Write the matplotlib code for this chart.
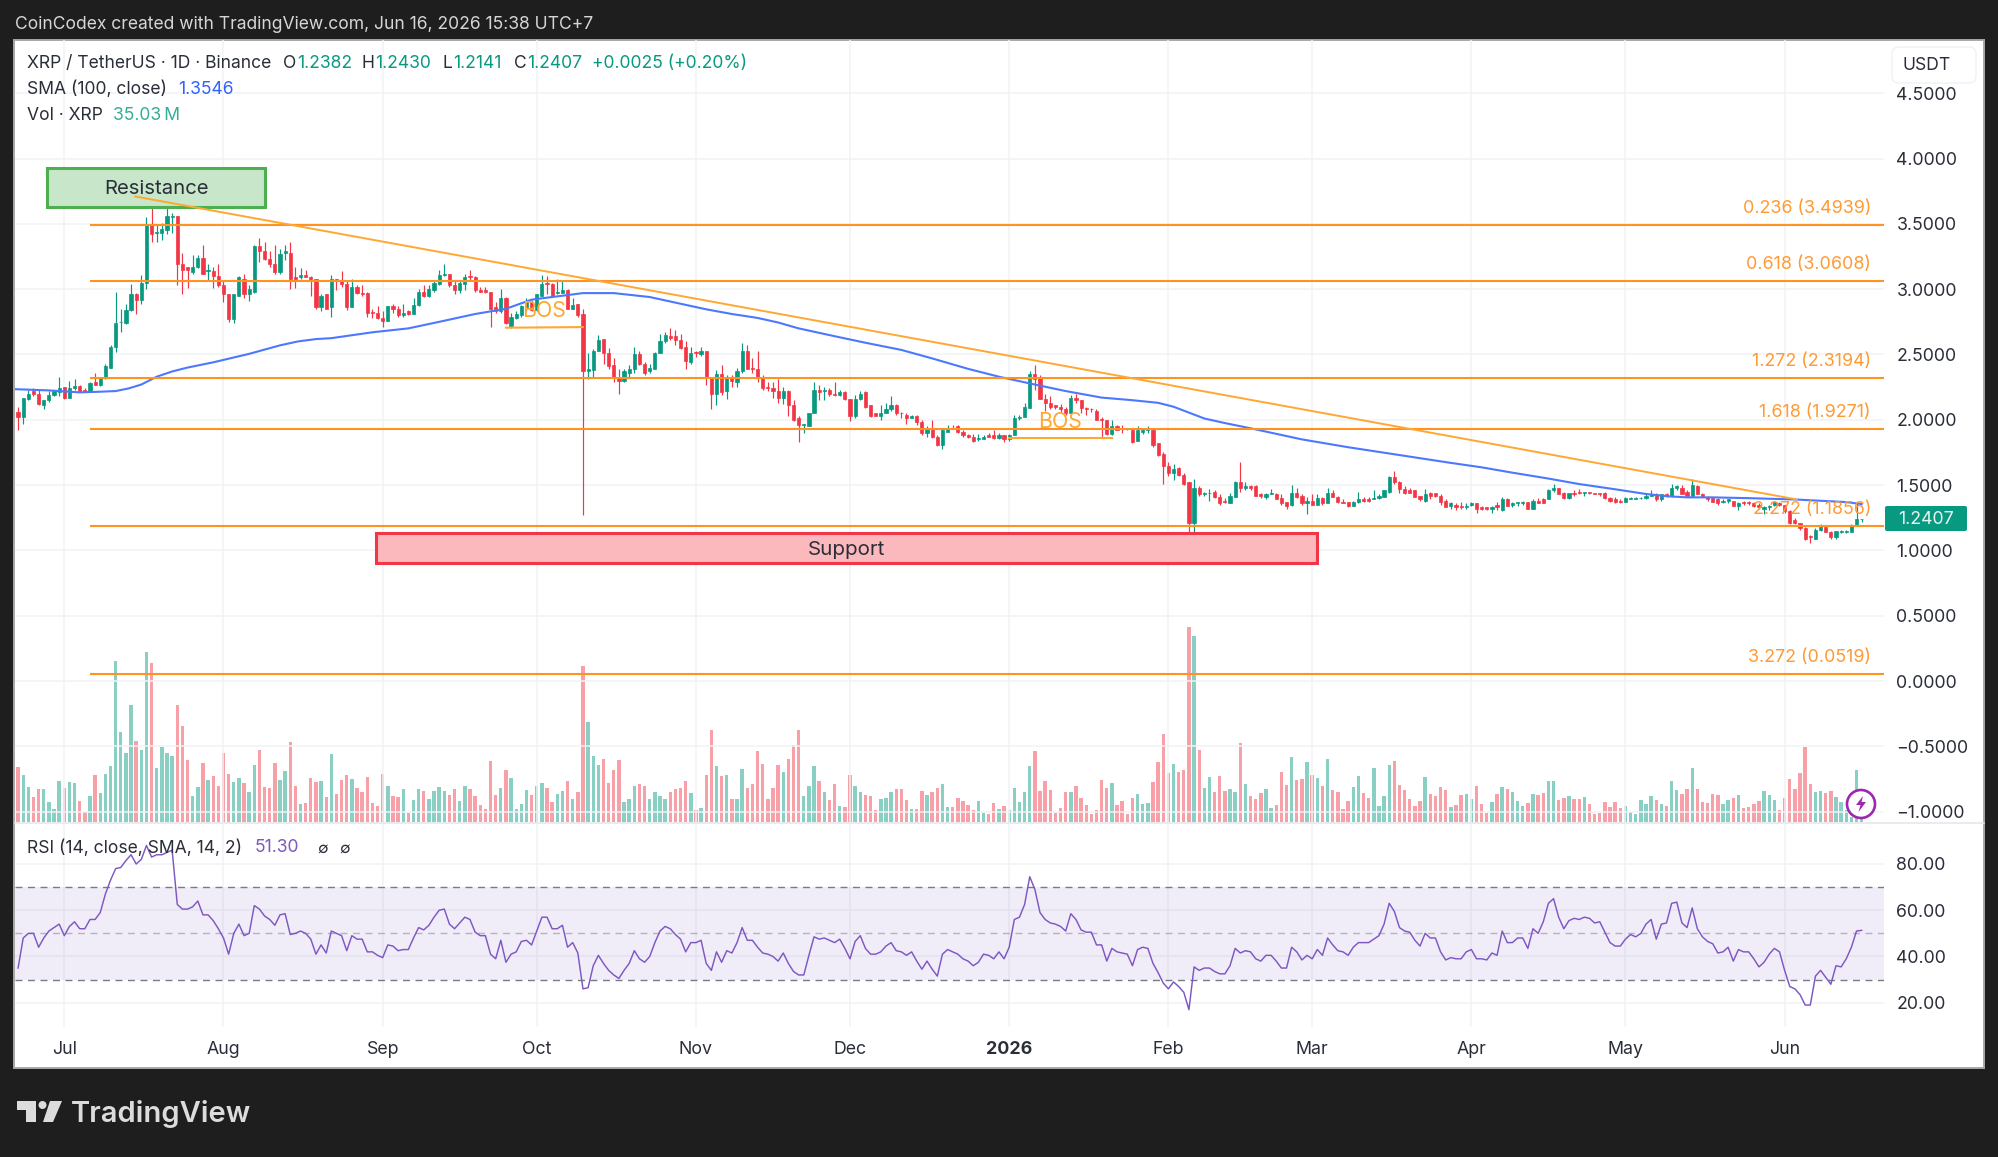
import numpy as np
import pandas as pd
import matplotlib
matplotlib.use("Agg")
import matplotlib.pyplot as plt
import matplotlib.dates as mdates
from matplotlib.patches import Rectangle, FancyBboxPatch, Circle, Polygon

plt.rcParams['font.family'] = ['Inter', 'DejaVu Sans']

W, H = 1999, 1157
UP = '#089981'
DOWN = '#f23645'
FIB = '#ff9322'
DRAW = '#ffa733'
TEXT = '#2a2e39'
GRID = '#f1f2f5'

# daily candles, 2025-06-22 to 2026-06-16
dates = pd.date_range('2025-06-22', '2026-06-16')

opens = [
    2.06, 2.02, 2.16, 2.22, 2.20, 2.11, 2.15, 2.19, 2.21, 2.25,
    2.17, 2.24, 2.26, 2.23, 2.22, 2.29, 2.27, 2.32, 2.40, 2.56,
    2.75, 2.74, 2.84, 2.96, 2.92, 3.05, 3.49, 3.43, 3.43, 3.45,
    3.55, 3.56, 3.19, 3.17, 3.13, 3.17, 3.24, 3.14, 3.14, 3.10,
    3.03, 2.96, 2.77, 2.95, 3.08, 2.96, 2.98, 3.33, 3.29, 3.23,
    3.19, 3.13, 3.28, 3.28, 3.09, 3.09, 3.11, 3.09, 3.08, 2.86,
    2.96, 2.86, 3.08, 3.06, 3.04, 2.86, 3.02, 2.97, 2.97, 2.825,
    2.82, 2.78, 2.76, 2.87, 2.85, 2.80, 2.83, 2.81, 2.88, 2.98,
    2.95, 2.99, 3.04, 3.11, 3.12, 3.03, 2.99, 3.04, 3.10, 3.09,
    2.99, 2.99, 2.98, 2.86, 2.83, 2.93, 2.72, 2.78, 2.80, 2.86,
    2.90, 2.84, 2.95, 3.05, 3.04, 2.97, 2.97, 2.99, 2.85, 2.89,
    2.81, 2.37, 2.38, 2.53, 2.62, 2.51, 2.42, 2.33, 2.30, 2.36,
    2.39, 2.50, 2.43, 2.37, 2.39, 2.51, 2.60, 2.64, 2.64, 2.61,
    2.56, 2.44, 2.52, 2.50, 2.53, 2.33, 2.20, 2.35, 2.22, 2.33,
    2.29, 2.37, 2.53, 2.40, 2.39, 2.33, 2.25, 2.24, 2.22, 2.17,
    2.22, 2.11, 2.01, 1.96, 1.95, 2.05, 2.23, 2.22, 2.23, 2.20,
    2.19, 2.21, 2.16, 2.03, 2.16, 2.21, 2.11, 2.05, 2.03, 2.05,
    2.08, 2.11, 2.055, 2.04, 2.01, 2.03, 1.98, 1.90, 1.94, 1.87,
    1.81, 1.91, 1.94, 1.95, 1.91, 1.88, 1.87, 1.85, 1.85, 1.88,
    1.88, 1.86, 1.88, 1.85, 1.88, 2.01, 2.02, 2.09, 2.35, 2.32,
    2.16, 2.13, 2.11, 2.10, 2.08, 2.05, 2.17, 2.15, 2.09, 2.085,
    2.07, 2.005, 2.00, 1.89, 1.95, 1.94, 1.94, 1.92, 1.84, 1.91,
    1.92, 1.92, 1.82, 1.74, 1.65, 1.59, 1.63, 1.58, 1.52, 1.21,
    1.48, 1.43, 1.44, 1.45, 1.41, 1.38, 1.36, 1.41, 1.52, 1.48,
    1.49, 1.49, 1.43, 1.41, 1.43, 1.43, 1.40, 1.37, 1.35, 1.44,
    1.42, 1.36, 1.38, 1.35, 1.40, 1.36, 1.44, 1.41, 1.37, 1.37,
    1.34, 1.37, 1.39, 1.39, 1.39, 1.40, 1.41, 1.45, 1.56, 1.52,
    1.47, 1.46, 1.46, 1.42, 1.38, 1.44, 1.44, 1.42, 1.38, 1.34,
    1.35, 1.34, 1.33, 1.35, 1.36, 1.33, 1.33, 1.32, 1.35, 1.31,
    1.39, 1.35, 1.36, 1.36, 1.37, 1.32, 1.38, 1.39, 1.39, 1.46,
    1.48, 1.44, 1.40, 1.44, 1.445, 1.44, 1.45, 1.44, 1.44, 1.44,
    1.40, 1.39, 1.38, 1.37, 1.39, 1.39, 1.40, 1.40, 1.42, 1.43,
    1.39, 1.43, 1.42, 1.48, 1.48, 1.45, 1.42, 1.49, 1.43, 1.41,
    1.40, 1.39, 1.37, 1.38, 1.38, 1.34, 1.37, 1.37, 1.36, 1.35,
    1.32, 1.33, 1.35, 1.36, 1.35, 1.30, 1.23, 1.21, 1.17, 1.11,
    1.09, 1.16, 1.18, 1.14, 1.10, 1.14, 1.14, 1.14, 1.19, 1.2382,
]
highs = [
    2.10, 2.17, 2.23, 2.24, 2.23, 2.15, 2.22, 2.22, 2.33, 2.25,
    2.30, 2.31, 2.27, 2.24, 2.29, 2.36, 2.33, 2.43, 2.57, 2.98,
    2.85, 2.89, 3.04, 2.97, 3.11, 3.55, 3.67, 3.49, 3.51, 3.65,
    3.58, 3.56, 3.28, 3.17, 3.26, 3.26, 3.34, 3.19, 3.17, 3.19,
    3.07, 2.96, 2.96, 3.10, 3.12, 3.03, 3.34, 3.39, 3.36, 3.29,
    3.34, 3.31, 3.34, 3.36, 3.17, 3.16, 3.15, 3.10, 3.08, 2.96,
    2.96, 3.11, 3.08, 3.14, 3.06, 3.08, 3.03, 3.03, 2.98, 2.85,
    2.87, 2.83, 2.87, 2.89, 2.87, 2.89, 2.84, 2.93, 3.00, 3.03,
    3.03, 3.06, 3.15, 3.19, 3.12, 3.07, 3.06, 3.12, 3.15, 3.10,
    3.02, 3.02, 2.98, 2.90, 3.00, 2.94, 2.82, 2.83, 2.88, 2.93,
    2.92, 2.96, 3.11, 3.10, 3.05, 3.08, 3.06, 3.00, 2.93, 2.89,
    2.85, 2.51, 2.54, 2.65, 2.62, 2.55, 2.47, 2.39, 2.39, 2.42,
    2.56, 2.53, 2.44, 2.43, 2.52, 2.66, 2.67, 2.70, 2.69, 2.66,
    2.60, 2.56, 2.53, 2.56, 2.53, 2.33, 2.38, 2.42, 2.34, 2.34,
    2.40, 2.59, 2.57, 2.47, 2.53, 2.34, 2.29, 2.29, 2.31, 2.25,
    2.23, 2.15, 2.03, 1.97, 2.05, 2.29, 2.27, 2.25, 2.24, 2.29,
    2.23, 2.22, 2.16, 2.19, 2.22, 2.22, 2.11, 2.05, 2.11, 2.13,
    2.18, 2.12, 2.06, 2.05, 2.04, 2.04, 2.00, 1.95, 2.00, 1.88,
    1.93, 1.96, 1.96, 1.96, 1.92, 1.89, 1.89, 1.89, 1.88, 1.90,
    1.92, 1.90, 1.88, 1.89, 2.04, 2.04, 2.13, 2.37, 2.42, 2.34,
    2.20, 2.18, 2.11, 2.12, 2.10, 2.19, 2.20, 2.15, 2.10, 2.09,
    2.08, 2.02, 2.00, 2.00, 1.96, 1.96, 1.94, 1.93, 1.95, 1.94,
    1.95, 1.93, 1.82, 1.75, 1.68, 1.66, 1.64, 1.59, 1.52, 1.55,
    1.49, 1.45, 1.47, 1.46, 1.43, 1.40, 1.44, 1.53, 1.68, 1.52,
    1.50, 1.50, 1.44, 1.44, 1.47, 1.44, 1.43, 1.37, 1.50, 1.48,
    1.43, 1.41, 1.43, 1.43, 1.41, 1.48, 1.46, 1.42, 1.39, 1.37,
    1.38, 1.45, 1.41, 1.41, 1.46, 1.43, 1.46, 1.57, 1.61, 1.53,
    1.49, 1.48, 1.46, 1.42, 1.47, 1.45, 1.44, 1.43, 1.39, 1.37,
    1.36, 1.37, 1.36, 1.37, 1.36, 1.34, 1.33, 1.34, 1.37, 1.41,
    1.40, 1.37, 1.37, 1.38, 1.37, 1.39, 1.40, 1.40, 1.47, 1.51,
    1.48, 1.45, 1.44, 1.46, 1.47, 1.45, 1.45, 1.44, 1.44, 1.45,
    1.41, 1.41, 1.39, 1.41, 1.41, 1.41, 1.41, 1.43, 1.46, 1.44,
    1.43, 1.44, 1.51, 1.50, 1.50, 1.46, 1.55, 1.50, 1.44, 1.42,
    1.41, 1.40, 1.39, 1.39, 1.38, 1.37, 1.38, 1.38, 1.37, 1.36,
    1.34, 1.35, 1.37, 1.37, 1.35, 1.31, 1.25, 1.21, 1.18, 1.12,
    1.17, 1.20, 1.18, 1.15, 1.15, 1.16, 1.16, 1.20, 1.36, 1.2430,
]
lows = [
    1.92, 1.97, 2.15, 2.18, 2.11, 2.08, 2.14, 2.18, 2.18, 2.16,
    2.17, 2.23, 2.21, 2.21, 2.21, 2.27, 2.26, 2.31, 2.40, 2.52,
    2.67, 2.73, 2.83, 2.81, 2.89, 3.00, 3.36, 3.36, 3.38, 3.42,
    3.43, 3.03, 2.96, 3.01, 3.12, 3.16, 3.12, 3.06, 3.01, 3.02,
    2.90, 2.75, 2.74, 2.95, 2.93, 2.91, 2.97, 3.21, 3.22, 3.17,
    3.12, 3.12, 3.22, 3.00, 3.01, 3.08, 3.09, 2.95, 2.85, 2.83,
    2.85, 2.79, 2.99, 3.02, 2.84, 2.86, 2.96, 2.95, 2.79, 2.78,
    2.77, 2.71, 2.76, 2.82, 2.79, 2.79, 2.80, 2.81, 2.87, 2.94,
    2.94, 2.98, 3.03, 3.10, 3.02, 2.96, 2.97, 2.99, 3.07, 2.98,
    2.98, 2.97, 2.71, 2.82, 2.82, 2.73, 2.70, 2.77, 2.79, 2.83,
    2.83, 2.83, 2.95, 2.96, 2.94, 2.96, 2.97, 2.85, 2.85, 2.79,
    1.27, 2.31, 2.32, 2.53, 2.43, 2.39, 2.29, 2.20, 2.29, 2.33,
    2.36, 2.42, 2.34, 2.36, 2.39, 2.51, 2.59, 2.61, 2.57, 2.54,
    2.39, 2.43, 2.48, 2.49, 2.27, 2.08, 2.11, 2.19, 2.16, 2.25,
    2.25, 2.36, 2.39, 2.36, 2.29, 2.23, 2.22, 2.17, 2.13, 2.12,
    2.03, 1.99, 1.83, 1.90, 1.95, 2.05, 2.15, 2.15, 2.18, 2.18,
    2.18, 2.15, 1.99, 2.01, 2.15, 2.09, 2.02, 2.03, 2.00, 2.05,
    2.07, 2.04, 2.01, 1.97, 2.01, 1.96, 1.88, 1.87, 1.86, 1.80,
    1.78, 1.91, 1.93, 1.90, 1.87, 1.86, 1.83, 1.84, 1.85, 1.87,
    1.85, 1.85, 1.83, 1.84, 1.88, 2.00, 2.02, 2.09, 2.23, 2.16,
    2.07, 2.08, 2.08, 2.06, 2.04, 2.05, 2.13, 2.05, 2.04, 2.06,
    2.00, 1.86, 1.88, 1.88, 1.92, 1.90, 1.92, 1.82, 1.84, 1.89,
    1.90, 1.79, 1.72, 1.51, 1.57, 1.54, 1.57, 1.50, 1.13, 1.13,
    1.42, 1.42, 1.38, 1.40, 1.35, 1.36, 1.36, 1.41, 1.45, 1.46,
    1.46, 1.42, 1.40, 1.39, 1.43, 1.39, 1.35, 1.32, 1.34, 1.40,
    1.35, 1.28, 1.35, 1.35, 1.35, 1.36, 1.41, 1.36, 1.36, 1.33,
    1.34, 1.36, 1.37, 1.37, 1.39, 1.39, 1.41, 1.44, 1.51, 1.44,
    1.43, 1.44, 1.41, 1.38, 1.37, 1.39, 1.41, 1.35, 1.33, 1.32,
    1.31, 1.32, 1.32, 1.34, 1.29, 1.31, 1.31, 1.29, 1.31, 1.30,
    1.34, 1.33, 1.34, 1.35, 1.32, 1.32, 1.36, 1.36, 1.39, 1.45,
    1.43, 1.39, 1.39, 1.42, 1.43, 1.42, 1.43, 1.43, 1.42, 1.39,
    1.37, 1.36, 1.36, 1.37, 1.39, 1.39, 1.39, 1.39, 1.42, 1.38,
    1.38, 1.41, 1.41, 1.46, 1.43, 1.42, 1.42, 1.43, 1.41, 1.38,
    1.37, 1.35, 1.36, 1.36, 1.34, 1.31, 1.35, 1.35, 1.33, 1.32,
    1.28, 1.31, 1.34, 1.34, 1.29, 1.20, 1.20, 1.16, 1.08, 1.06,
    1.09, 1.15, 1.14, 1.09, 1.09, 1.13, 1.13, 1.14, 1.19, 1.2141,
]
closes = [
    2.02, 2.17, 2.20, 2.20, 2.12, 2.15, 2.19, 2.22, 2.24, 2.17,
    2.24, 2.26, 2.22, 2.22, 2.28, 2.27, 2.32, 2.41, 2.56, 2.74,
    2.75, 2.84, 2.96, 2.92, 3.05, 3.49, 3.42, 3.44, 3.46, 3.56,
    3.56, 3.19, 3.15, 3.15, 3.17, 3.24, 3.12, 3.15, 3.10, 3.03,
    2.96, 2.77, 2.96, 3.09, 2.96, 3.00, 3.33, 3.29, 3.23, 3.19,
    3.13, 3.27, 3.29, 3.08, 3.08, 3.11, 3.09, 3.08, 2.86, 2.95,
    2.85, 3.08, 3.06, 3.04, 2.86, 3.02, 2.97, 2.96, 2.82, 2.82,
    2.78, 2.76, 2.87, 2.85, 2.80, 2.82, 2.81, 2.88, 2.98, 2.95,
    3.00, 3.05, 3.11, 3.12, 3.03, 2.99, 3.05, 3.09, 3.09, 2.99,
    2.98, 2.98, 2.85, 2.83, 2.93, 2.74, 2.79, 2.81, 2.87, 2.90,
    2.84, 2.96, 3.04, 3.04, 2.95, 2.98, 2.99, 2.85, 2.88, 2.80,
    2.37, 2.39, 2.53, 2.61, 2.51, 2.41, 2.33, 2.30, 2.37, 2.39,
    2.50, 2.43, 2.36, 2.40, 2.51, 2.60, 2.65, 2.63, 2.61, 2.55,
    2.45, 2.51, 2.51, 2.53, 2.32, 2.20, 2.35, 2.21, 2.33, 2.30,
    2.37, 2.53, 2.39, 2.39, 2.32, 2.24, 2.24, 2.22, 2.17, 2.22,
    2.11, 2.00, 1.96, 1.97, 2.05, 2.23, 2.21, 2.23, 2.20, 2.19,
    2.21, 2.16, 2.03, 2.16, 2.20, 2.10, 2.03, 2.03, 2.05, 2.08,
    2.11, 2.05, 2.05, 2.01, 2.03, 1.98, 1.90, 1.94, 1.87, 1.81,
    1.92, 1.94, 1.93, 1.91, 1.88, 1.87, 1.84, 1.86, 1.87, 1.87,
    1.86, 1.88, 1.85, 1.88, 2.01, 2.02, 2.10, 2.35, 2.31, 2.16,
    2.13, 2.10, 2.10, 2.08, 2.05, 2.17, 2.15, 2.09, 2.08, 2.08,
    2.00, 2.00, 1.89, 1.95, 1.92, 1.93, 1.93, 1.83, 1.92, 1.92,
    1.93, 1.81, 1.73, 1.65, 1.59, 1.62, 1.58, 1.51, 1.21, 1.48,
    1.43, 1.44, 1.44, 1.41, 1.36, 1.37, 1.42, 1.52, 1.48, 1.49,
    1.48, 1.42, 1.42, 1.43, 1.44, 1.39, 1.36, 1.34, 1.44, 1.41,
    1.36, 1.38, 1.35, 1.40, 1.36, 1.44, 1.41, 1.37, 1.36, 1.34,
    1.37, 1.39, 1.38, 1.38, 1.40, 1.42, 1.46, 1.56, 1.52, 1.47,
    1.44, 1.44, 1.41, 1.39, 1.43, 1.42, 1.42, 1.37, 1.33, 1.36,
    1.33, 1.33, 1.34, 1.36, 1.32, 1.32, 1.32, 1.33, 1.33, 1.39,
    1.34, 1.36, 1.37, 1.37, 1.32, 1.38, 1.36, 1.36, 1.46, 1.48,
    1.43, 1.40, 1.44, 1.43, 1.44, 1.45, 1.44, 1.43, 1.43, 1.40,
    1.38, 1.37, 1.37, 1.40, 1.40, 1.40, 1.40, 1.42, 1.43, 1.39,
    1.43, 1.42, 1.48, 1.49, 1.43, 1.42, 1.50, 1.43, 1.41, 1.39,
    1.37, 1.36, 1.38, 1.39, 1.34, 1.36, 1.36, 1.36, 1.34, 1.33,
    1.33, 1.34, 1.37, 1.35, 1.30, 1.21, 1.21, 1.17, 1.09, 1.10,
    1.16, 1.18, 1.14, 1.10, 1.15, 1.15, 1.15, 1.19, 1.24, 1.2407,
]

# volume in millions of XRP
volumes = [
    640, 548, 408, 288, 384, 384, 232, 152, 480, 392,
    468, 460, 240, 120, 300, 548, 340, 560, 652, 1888,
    1052, 808, 1368, 944, 840, 1988, 1864, 632, 872, 808,
    772, 1368, 1128, 728, 304, 408, 688, 492, 536, 420,
    808, 560, 472, 512, 452, 352, 664, 844, 408, 392,
    692, 488, 600, 936, 420, 208, 220, 512, 472, 480,
    288, 792, 332, 488, 548, 504, 392, 352, 528, 220,
    184, 560, 420, 304, 296, 384, 104, 260, 384, 368,
    272, 368, 408, 360, 320, 384, 248, 416, 384, 300,
    200, 152, 712, 320, 392, 608, 512, 152, 212, 372,
    320, 424, 456, 392, 232, 332, 368, 480, 272, 352,
    1828, 1168, 772, 668, 740, 460, 608, 728, 232, 272,
    420, 440, 416, 272, 352, 304, 272, 352, 388, 400,
    480, 340, 140, 164, 546, 1072, 651, 534, 554, 269,
    265, 616, 398, 441, 831, 682, 269, 398, 663, 585,
    733, 905, 1072, 300, 421, 651, 480, 347, 261, 441,
    183, 175, 546, 417, 347, 320, 304, 136, 269, 277,
    351, 386, 390, 253, 148, 148, 363, 320, 351, 398,
    448, 175, 175, 277, 250, 195, 144, 242, 101, 90,
    226, 156, 191, 136, 398, 238, 351, 651, 835, 363,
    480, 370, 105, 164, 347, 355, 421, 285, 195, 97,
    144, 488, 398, 452, 199, 242, 94, 281, 332, 207,
    222, 468, 706, 1026, 569, 675, 589, 605, 2282, 2176,
    842, 398, 523, 351, 534, 363, 382, 351, 920, 448,
    308, 269, 339, 386, 168, 203, 585, 429, 760, 495,
    507, 706, 554, 519, 421, 733, 370, 351, 156, 250,
    406, 542, 343, 281, 628, 191, 304, 671, 718, 429,
    370, 273, 183, 242, 526, 332, 304, 410, 370, 172,
    195, 312, 324, 273, 417, 207, 105, 234, 332, 410,
    386, 351, 250, 183, 226, 332, 316, 343, 484, 484,
    261, 285, 308, 269, 269, 293, 207, 90, 101, 234,
    172, 230, 164, 191, 117, 97, 261, 215, 300, 261,
    215, 183, 484, 370, 328, 386, 628, 386, 230, 218,
    332, 312, 215, 253, 281, 316, 168, 179, 215, 250,
    363, 312, 261, 144, 285, 499, 382, 577, 874, 441,
    355, 363, 339, 363, 293, 234, 137, 59, 605, 35.03,
]

rsi = [
    35, 48, 50, 50, 44, 48, 51, 52.5, 54, 49,
    53, 55, 52, 52, 56, 56, 59, 67, 73, 78,
    78.5, 81.5, 84, 80, 82, 88, 83, 84, 84, 85,
    86, 62.5, 60.5, 60.5, 61.5, 64, 58, 58, 55.5, 52,
    48, 41, 50, 54, 49, 50, 62, 60.5, 57.5, 56,
    53.5, 58, 58.5, 49.5, 50, 51, 50, 47.5, 41, 45,
    41.5, 51, 50, 49, 42.5, 49, 47.5, 47.5, 42, 42,
    40.5, 39.5, 45, 44.5, 42.5, 43, 43, 48, 52.5, 51.5,
    53.5, 57, 60, 60.5, 54, 52, 54.5, 57, 56, 50.5,
    49, 49, 41, 39, 47, 37.5, 41, 42, 46.5, 47,
    45, 51, 57, 57, 52, 52, 53.5, 44, 46, 41.5,
    26, 26.5, 36, 40.5, 37, 34, 32, 30.5, 34, 37,
    42.5, 39, 37.5, 40, 46, 51, 53, 52, 49.5, 47.5,
    42, 46, 46, 47, 37, 34, 42, 37.5, 42.5, 41.5,
    46, 52.5, 47, 47, 44, 41.5, 41, 40, 38, 41.5,
    37, 33.5, 32, 32, 40.5, 48.5, 47.5, 48, 47, 46,
    47.5, 43.5, 39, 46.5, 49, 43.5, 41, 41, 42, 44.5,
    46, 42.5, 42, 40.5, 42, 38, 34.5, 38, 34.5, 31.5,
    41, 43, 42, 41, 39, 38, 36, 37.5, 41, 40.5,
    39, 42, 39, 44, 56, 57, 62.5, 74.5, 69, 59,
    56, 54.5, 54, 53, 51, 58.5, 56, 51.5, 50.5, 50.5,
    45, 45, 38, 43.5, 42, 41.5, 41, 36, 43, 44,
    43.5, 37, 33, 28.5, 26, 29, 27, 24.5, 17, 35.5,
    34, 35, 35, 33.5, 32.5, 32.5, 36, 43.5, 41.5, 42.5,
    42, 39, 38, 40.5, 40.5, 38, 35, 35, 44, 42,
    38.5, 40.5, 39, 43, 40.5, 48, 45, 42.5, 42, 40.5,
    44, 46, 46, 46, 47.5, 49, 54, 63, 59.5, 52.5,
    51, 50.5, 47, 44.5, 50, 48, 48, 42, 38.5, 39.5,
    39, 39, 42, 43, 39, 39, 38.5, 41.5, 40.5, 51,
    46, 46, 48, 48, 43.5, 52, 50, 55, 63, 65,
    57, 52, 55.5, 56.5, 56, 57, 56.5, 54.5, 55, 50.5,
    46, 44.5, 44.5, 47.5, 49.5, 48.5, 50, 54, 56, 47.5,
    54, 54.5, 63, 63.5, 54.5, 52.5, 61, 52, 48.5, 46.5,
    45.5, 41.5, 42, 44, 38, 43, 42, 42, 39, 35.5,
    37.5, 41, 43.5, 42, 34, 27, 26, 23.5, 19, 19,
    31.5, 34, 31, 28, 36, 35.5, 39, 44, 51, 51.3,
]

# SMA 100, days counted from 2025-07-01
sma_days = [-10, -3, 3, 7, 10, 12.5, 15, 18, 21, 24, 29, 36, 42, 45.5, 49, 52,
            60, 67, 73, 80, 86, 91, 95, 98, 101, 107, 114, 121, 125, 130, 135,
            139, 143, 150, 156, 163, 169, 176, 182, 189, 195, 202, 208, 213,
            216, 219, 222, 226, 231, 241, 250, 260, 270, 276, 282, 289, 295,
            302, 308, 312, 316, 321, 328, 337, 347, 350]
sma_values = [2.235, 2.225, 2.21, 2.215, 2.22, 2.24, 2.27, 2.33, 2.37, 2.40, 2.44, 2.505, 2.57, 2.60, 2.618, 2.625,
              2.67, 2.70, 2.75, 2.81, 2.85, 2.92, 2.94, 2.955, 2.97, 2.97, 2.94, 2.88, 2.846, 2.81, 2.78,
              2.745, 2.70, 2.64, 2.59, 2.535, 2.47, 2.39, 2.33, 2.27, 2.22, 2.17, 2.15, 2.13,
              2.10, 2.055, 2.01, 1.975, 1.935, 1.85, 1.79, 1.73, 1.67, 1.636, 1.595, 1.55, 1.508,
              1.468, 1.432, 1.415, 1.406, 1.406, 1.40, 1.39, 1.37, 1.3546]

fib_ratios = ['0.236', '0.618', '1.272', '1.618', '2.272', '3.272']
fib_levels = [3.4939, 3.0608, 2.3194, 1.9271, 1.1856, 0.0519]

price_ticks = [4.5, 4.0, 3.5, 3.0, 2.5, 2.0, 1.5, 1.0, 0.5, 0.0, -0.5, -1.0]
rsi_ticks = [80, 60, 40, 20]
month_starts = ['2025-07-01', '2025-08-01', '2025-09-01', '2025-10-01', '2025-11-01', '2025-12-01',
                '2026-01-01', '2026-02-01', '2026-03-01', '2026-04-01', '2026-05-01', '2026-06-01']
month_labels = ['Jul', 'Aug', 'Sep', 'Oct', 'Nov', 'Dec', '2026', 'Feb', 'Mar', 'Apr', 'May', 'Jun']

x = mdates.date2num(dates)
jul1 = mdates.date2num(pd.Timestamp('2025-07-01'))
opens, highs, lows, closes = map(np.array, (opens, highs, lows, closes))
colors = [UP if c >= o else DOWN for o, c in zip(opens, closes)]


def pane(left, top, right, bottom):
    # axes placed by pixel edges, y measured from the top of the figure
    return fig.add_axes([left / W, 1 - bottom / H, (right - left) / W, (bottom - top) / H])


fig = plt.figure(figsize=(W / 100, H / 100), dpi=100, facecolor='#1e1e1e')

# page furniture under everything
back = fig.add_axes([0, 0, 1, 1], zorder=-1)
back.set_xlim(0, W)
back.set_ylim(H, 0)
back.axis('off')
back.add_patch(Rectangle((14.5, 40), 1970, 1028, fc='white', ec='#a8a8a8', lw=1.4))

ax = pane(15, 40, 1884, 822)
ax_vol = ax.twinx()
rsi_ax = pane(15, 824, 1884, 1027)
ax.set_zorder(ax_vol.get_zorder() + 1)
ax.patch.set_visible(False)
ax_vol.patch.set_visible(False)
rsi_ax.patch.set_visible(False)

xlim = (jul1 - 9.6, jul1 + 354.35)
month_x = mdates.date2num(pd.to_datetime(month_starts))

# volume
ax_vol.bar(x, volumes, width=0.66, color=colors, alpha=0.47, linewidth=0)
ax_vol.set_ylim(0, 9149)
ax_vol.yaxis.set_visible(False)

# candles
ax.vlines(x, lows, highs, colors=colors, lw=0.85, zorder=3)
ax.bar(x, np.abs(closes - opens), bottom=np.minimum(opens, closes), width=0.62,
       color=colors, edgecolor=colors, linewidth=0.5, zorder=4)
ax.plot(jul1 + np.array(sma_days), sma_values, color='#4c78ff', lw=1.5, zorder=5)

# fib levels
for ratio, level in zip(fib_ratios, fib_levels):
    ax.plot([jul1 + 5, xlim[1]], [level, level], color=FIB, lw=1.5, zorder=6, solid_capstyle='butt')
    ax.annotate(f'{ratio} ({level:.4f})', xy=(jul1 + 351.8, level), xytext=(0, 12),
                textcoords='offset points', ha='right', va='center', color='#ff9a33',
                fontsize=12.9, zorder=7)

# trendline and structure breaks
ax.plot([jul1 + 13.8, jul1 + 337.4], [3.71, 1.39], color=DRAW, lw=1.4, zorder=6)
ax.plot([jul1 + 86, jul1 + 101], [2.705, 2.71], color=DRAW, lw=1.5, zorder=6)
ax.plot([jul1 + 184, jul1 + 204], [1.86, 1.86], color=DRAW, lw=1.5, zorder=6)
ax.text(jul1 + 93.4, 2.835, 'BOS', color=DRAW, fontsize=15.3, ha='center', va='center', zorder=7)
ax.text(jul1 + 193.9, 1.985, 'BOS', color=DRAW, fontsize=15.3, ha='center', va='center', zorder=7)

# resistance and support zones
ax.add_patch(Rectangle((jul1 - 3.3, 3.63), 42.3, 0.30, fc='#c8e6c9', ec='#4caf50', lw=2.2, zorder=5.5))
ax.text(jul1 + 17.9, 3.765, 'Resistance', color=TEXT, fontsize=14.6, ha='center', va='center', zorder=7)
ax.add_patch(Rectangle((jul1 + 60.7, 0.906), 183.3, 0.227, fc='#fbb9be', ec=DOWN, lw=2.2, zorder=5.5))
ax.text(jul1 + 152.4, 1.005, 'Support', color=TEXT, fontsize=14.8, ha='center', va='center', zorder=7)

ax.set_xlim(xlim)
ax.set_ylim(-1.0796, 4.908)
ax.yaxis.tick_right()
ax.set_yticks(price_ticks)
ax.set_yticklabels([f'{t:.4f}'.replace('-', '\u2212') for t in price_ticks])
ax.set_xticks(month_x)
ax.tick_params(axis='x', length=0, labelbottom=False)
ax.tick_params(axis='y', length=0, pad=9, labelsize=12.8, labelcolor=TEXT)
ax.grid(True, color=GRID, lw=1.1)
ax.set_axisbelow(True)
for s in ax.spines.values():
    s.set_visible(False)
for s in ax_vol.spines.values():
    s.set_visible(False)

# RSI pane
rsi_ax.axhspan(30, 70, color='#7e57c2', alpha=0.1, lw=0)
rsi_ax.axhline(70, color='#787b86', lw=1.0, ls=(0, (5, 4)))
rsi_ax.axhline(50, color='#787b86', lw=1.0, ls=(0, (5, 4)), alpha=0.5)
rsi_ax.axhline(30, color='#787b86', lw=1.0, ls=(0, (5, 4)))
rsi_ax.plot(x, rsi, color='#7e57c2', lw=1.05, zorder=5)
rsi_ax.set_xlim(xlim)
rsi_ax.set_ylim(9.5, 97.3)
rsi_ax.yaxis.tick_right()
rsi_ax.set_yticks(rsi_ticks)
rsi_ax.set_yticklabels([f'{t:.2f}' for t in rsi_ticks])
rsi_ax.set_xticks(month_x)
rsi_ax.set_xticklabels(month_labels)
rsi_ax.tick_params(axis='x', length=0, pad=10, labelsize=12.8, labelcolor=TEXT)
rsi_ax.tick_params(axis='y', length=0, pad=9, labelsize=12.8, labelcolor=TEXT)
rsi_ax.get_xticklabels()[6].set_fontweight('bold')
rsi_ax.grid(True, color=GRID, lw=1.1)
rsi_ax.set_axisbelow(True)
for s in rsi_ax.spines.values():
    s.set_visible(False)

# overlay in pixel coordinates: header, legends, price tag, logo
top = fig.add_axes([0, 0, 1, 1], zorder=10)
top.set_xlim(0, W)
top.set_ylim(H, 0)
top.axis('off')
top.plot([15, 1984], [823, 823], color='#e3e5ea', lw=1.1)


def label(px, py, s, color=TEXT, size=12.6, **kw):
    top.text(px, py, s, color=color, fontsize=size, va='center', **kw)


label(15, 24.5, 'CoinCodex created with TradingView.com, Jun 16, 2026 15:38 UTC+7', color='#d6d6d6')

label(27, 64, 'XRP / TetherUS \u00b7 1D \u00b7 Binance')
for px, s in [(283, 'O'), (362, 'H'), (443, 'L'), (514, 'C')]:
    label(px, 64, s)
for px, s in [(297, '1.2382'), (375, '1.2430'), (453, '1.2141'), (527, '1.2407'), (592, '+0.0025 (+0.20%)')]:
    label(px, 64, s, color=UP)
label(27, 89.5, 'SMA (100, close)')
label(178, 89.5, '1.3546', color='#2f62ff')
label(27, 115, 'Vol \u00b7 XRP')
label(113, 115, '35.03\u2009M', color='#35ad98')
label(27, 848, 'RSI (14, close, SMA, 14, 2)')
label(255, 848, '51.30', color='#7e57c2')
label(317, 848, '\u2205', size=11)
label(339, 848, '\u2205', size=11)

# currency button over the top of the scale
top.add_patch(FancyBboxPatch((1892, 47), 84, 36, boxstyle='round,pad=0,rounding_size=7',
                             fc='white', ec='#f0f1f4', lw=1))
label(1903, 66, 'USDT')

# last price tag
top.add_patch(FancyBboxPatch((1885, 506), 82, 25, boxstyle='round,pad=0,rounding_size=2',
                             fc=UP, ec='none'))
label(1898, 519.5, '1.2407', color='#e8f5f2', size=12.8)

# alert button
top.add_patch(Circle((1861, 804), 14, fc='white', ec='#9c27b0', lw=1.9))
top.add_patch(Polygon([(1863, 796), (1856, 805), (1860.5, 805), (1858.5, 812), (1866, 802), (1861.5, 802)],
                      closed=True, fc='#9c27b0', ec='none'))

# TradingView mark and wordmark
logo = '#dcdcdc'
top.add_patch(Polygon([(17, 1101), (36, 1101), (36, 1122), (26, 1122), (26, 1110), (17, 1110)], closed=True, fc=logo, ec='none'))
top.add_patch(Circle((42.5, 1105), 4, fc=logo, ec='none'))
top.add_patch(Polygon([(50, 1101), (62, 1101), (53, 1122), (43, 1122)], closed=True, fc=logo, ec='none'))
label(71, 1114, 'TradingView', color=logo, size=21, fontweight='semibold')

fig.savefig('out.png', dpi=100, facecolor=fig.get_facecolor())
